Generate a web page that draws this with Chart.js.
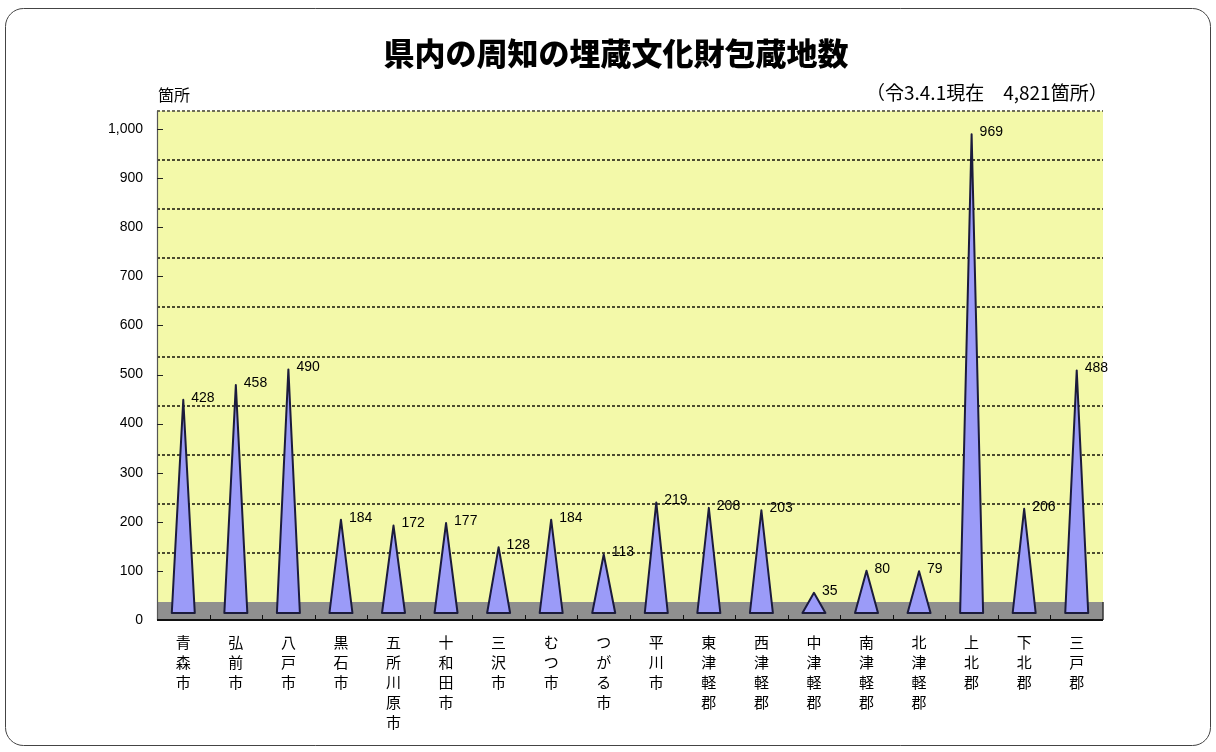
<!DOCTYPE html>
<html><head><meta charset="utf-8">
<script src="https://cdn.jsdelivr.net/npm/chart.js@4.4.1/dist/chart.umd.min.js"></script>
<style>html,body{margin:0;padding:0;background:#fff;}canvas{display:block;}</style>
</head><body>
<canvas id="c" width="1216" height="752"></canvas>
<script>
// ---- data ----
const categories = ['青森市','弘前市','八戸市','黒石市','五所川原市','十和田市','三沢市','むつ市','つがる市','平川市','東津軽郡','西津軽郡','中津軽郡','南津軽郡','北津軽郡','上北郡','下北郡','三戸郡'];
const siteCounts = [428,458,490,184,172,177,128,184,113,219,208,203,35,80,79,969,206,488];
const yTickValues = [0,100,200,300,400,500,600,700,800,900,1000];
const titleText = '県内の周知の埋蔵文化財包蔵地数';
const unitText = '箇所';
const noteText = '（令3.4.1現在　4,821箇所）';

const DEPTH = 18;
const JP = '"Noto Sans CJK JP"';
const LAT = '"Liberation Sans", Arial, sans-serif';

const scenery = {
  id: 'scenery',
  beforeDraw(chart) {
    const ctx = chart.ctx;
    ctx.save();
    ctx.fillStyle = '#fff';
    ctx.fillRect(0, 0, chart.width, chart.height);
    // rounded outer frame
    const x0 = 5.5, y0 = 8.5, x1 = 1210.5, y1 = 745.5, r = 18;
    ctx.beginPath();
    ctx.moveTo(x0 + r, y0); ctx.lineTo(x1 - r, y0); ctx.arcTo(x1, y0, x1, y0 + r, r);
    ctx.lineTo(x1, y1 - r); ctx.arcTo(x1, y1, x1 - r, y1, r);
    ctx.lineTo(x0 + r, y1); ctx.arcTo(x0, y1, x0, y1 - r, r);
    ctx.lineTo(x0, y0 + r); ctx.arcTo(x0, y0, x0 + r, y0, r);
    ctx.closePath();
    ctx.strokeStyle = '#444'; ctx.lineWidth = 1; ctx.stroke();
    // texts
    ctx.fillStyle = '#000';
    ctx.textBaseline = 'middle';
    ctx.textAlign = 'center';
    ctx.font = '900 31px ' + JP;
    ctx.fillText(titleText, 616, 53);
    ctx.textAlign = 'left';
    ctx.font = '16px ' + JP;
    ctx.fillText(unitText, 158, 95);
    ctx.font = '19px ' + JP;
    ctx.fillText(noteText, 866, 93);
    ctx.restore();
  },
  beforeDatasetsDraw(chart) {
    const { ctx, chartArea: a, scales: { x, y } } = chart;
    const yb = y.getPixelForValue(0);
    const yt = y.getPixelForValue(1000);
    ctx.save();
    // back wall
    ctx.fillStyle = '#f3f9a9';
    ctx.fillRect(a.left, yt - DEPTH, a.right - a.left, yb - yt);
    // floor
    ctx.fillStyle = '#8f8f8f';
    ctx.fillRect(a.left, yb - DEPTH, a.right - a.left, DEPTH);
    // dashed gridlines on wall
    ctx.setLineDash([3, 2]);
    ctx.lineWidth = 2;
    yTickValues.forEach(v => {
      if (v === 0) return;
      const py = Math.round(y.getPixelForValue(v) - DEPTH);
      ctx.strokeStyle = v === 1000 ? '#6e6e58' : '#4c4c30';
      ctx.beginPath(); ctx.moveTo(a.left, py); ctx.lineTo(a.right, py); ctx.stroke();
    });
    ctx.setLineDash([]);
    // left wall edge / axis
    ctx.strokeStyle = '#555';
    ctx.lineWidth = 1.2;
    ctx.beginPath(); ctx.moveTo(a.left + 0.5, yt - DEPTH); ctx.lineTo(a.left + 0.5, yb); ctx.stroke();
    // y tick marks
    ctx.strokeStyle = '#222';
    ctx.lineWidth = 1;
    yTickValues.forEach(v => {
      const py = Math.round(y.getPixelForValue(v)) + 0.5;
      ctx.beginPath(); ctx.moveTo(a.left, py); ctx.lineTo(a.left + 6, py); ctx.stroke();
    });
    // right floor edge
    ctx.strokeStyle = '#333';
    ctx.lineWidth = 1.5;
    ctx.beginPath(); ctx.moveTo(a.right, yb - DEPTH); ctx.lineTo(a.right, yb); ctx.stroke();
    // bottom axis line
    ctx.strokeStyle = '#111';
    ctx.lineWidth = 2;
    ctx.beginPath(); ctx.moveTo(a.left, yb); ctx.lineTo(a.right, yb); ctx.stroke();
    // x tick marks at category boundaries
    ctx.lineWidth = 1;
    const n = categories.length;
    for (let i = 1; i < n; i++) {
      const px = Math.round((x.getPixelForValue(i - 1) + x.getPixelForValue(i)) / 2) + 0.5;
      ctx.beginPath(); ctx.moveTo(px, yb - 5); ctx.lineTo(px, yb); ctx.stroke();
    }
    ctx.restore();
  },
  afterDatasetsDraw(chart) {
    const { ctx, scales: { y } } = chart;
    const meta = chart.getDatasetMeta(0);
    const yb = y.getPixelForValue(0);
    ctx.save();
    meta.data.forEach((el, i) => {
      const cx = el.x;
      const peak = el.y - 10;
      const base = yb - 7;
      const hw = 11.5;
      ctx.beginPath();
      ctx.moveTo(cx - hw, base);
      ctx.lineTo(cx, peak);
      ctx.lineTo(cx + hw, base);
      ctx.closePath();
      ctx.fillStyle = '#9b9bf8';
      ctx.fill();
      ctx.strokeStyle = '#1b1b3c';
      ctx.lineWidth = 2;
      ctx.lineJoin = 'round';
      ctx.stroke();
    });
    ctx.fillStyle = '#000';
    ctx.font = '14px ' + LAT;
    ctx.textAlign = 'left';
    ctx.textBaseline = 'middle';
    meta.data.forEach((el, i) => {
      ctx.fillText(String(siteCounts[i]), el.x + 8, el.y - 12);
    });
    ctx.restore();
  }
};

new Chart(document.getElementById('c'), {
  type: 'bar',
  data: {
    labels: categories.map(c => Array.from(c)),
    datasets: [{
      data: siteCounts,
      backgroundColor: 'rgba(0,0,0,0)',
      borderWidth: 0
    }]
  },
  options: {
    responsive: false,
    animation: false,
    events: [],
    layout: { padding: { left: 20, right: 113, top: 129, bottom: 0 } },
    plugins: { legend: { display: false }, tooltip: { enabled: false } },
    scales: {
      x: {
        grid: { display: false, drawTicks: false },
        border: { display: false },
        ticks: {
          autoSkip: false, maxRotation: 0, minRotation: 0, padding: 12,
          color: '#000',
          font: { family: JP, size: 15, lineHeight: 1.3333 }
        },
        afterFit(s) { s.height = 132; }
      },
      y: {
        min: 0, max: 1000,
        grid: { display: false, drawTicks: false },
        border: { display: false },
        ticks: {
          stepSize: 100, padding: 14, color: '#000',
          font: { family: LAT, size: 14 },
          callback: v => v.toLocaleString('en-US')
        },
        afterFit(s) { s.width = 137; }
      }
    }
  },
  plugins: [scenery]
});
</script>
</body></html>
